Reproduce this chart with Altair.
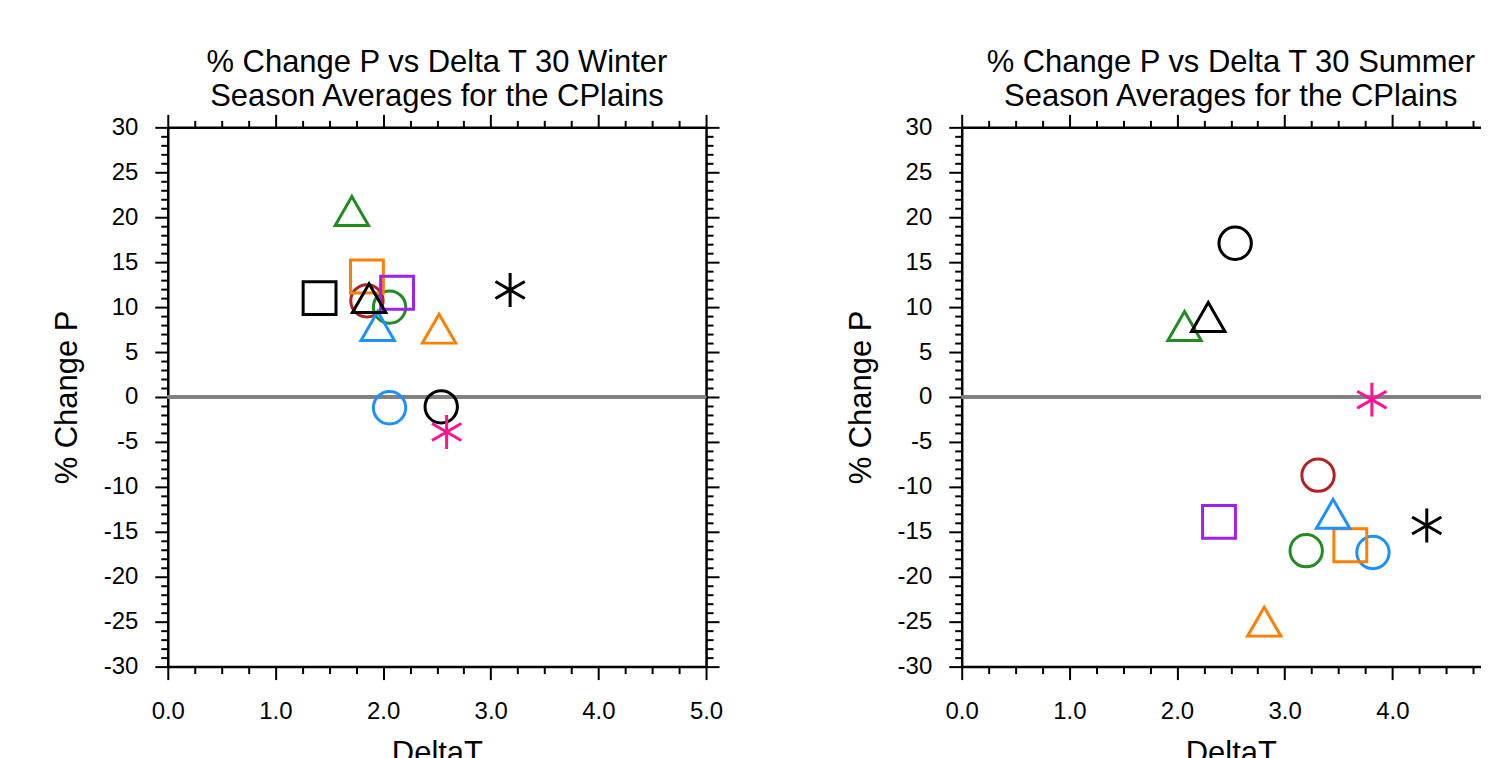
import altair as alt
import pandas as pd

FONT = "Liberation Sans"

# one entry per model series
series = ["S01", "S02", "S03", "S04", "S05", "S06", "S07",
          "S08", "S09", "S10", "S11", "S12", "S13"]
series_shape = ["circle", "circle", "circle", "circle",
                "square", "square", "square",
                "triangle-up", "triangle-up", "triangle-up", "triangle-up",
                "asterisk", "asterisk"]
series_color = ["#b22222", "#228b22", "#1e90ff", "#000000",
                "#ff8000", "#a020f0", "#000000",
                "#228b22", "#1e90ff", "#ff8000", "#000000",
                "#ff1493", "#000000"]

# Winter values (DeltaT, % Change P)
winter_dt = [1.85, 2.06, 2.06, 2.54, 1.85, 2.13, 1.41, 1.71, 1.95, 2.52, 1.87, 2.59, 3.18]
winter_dp = [10.7, 10.0, -1.2, -1.1, 13.4, 11.6, 11.0, 20.7, 7.9, 7.6, 11.0, -3.9, 11.9]

# Summer values (black square not shown)
summer_dt = [3.31, 3.20, 3.82, 2.54, 3.61, 2.39, None, 2.07, 3.45, 2.81, 2.29, 3.81, 4.32]
summer_dp = [-8.7, -17.1, -17.3, 17.1, -16.5, -13.9, None, 7.9, -13.0, -25.0, 8.9, -0.3, -14.3]

x_ticks = [i * 0.25 for i in range(21)]
y_ticks = list(range(-30, 31))

ASTERISK = "M0,-1L0,1M-0.866,-0.5L0.866,0.5M-0.866,0.5L0.866,-0.5"
shape_path = {"circle": "circle", "square": "square",
              "triangle-up": "triangle-up", "asterisk": ASTERISK}

MAJ_X = "abs(datum.value - round(datum.value)) < 0.001"
MAJ_Y = "datum.value % 5 === 0"


def tsize(test):
    return {"condition": {"test": test, "value": 13}, "value": 7}


common = dict(domainColor="black", domainWidth=2.5, tickColor="black",
              tickWidth=2, labelOverlap=False, labelFlush=False, grid=False,
              labelFont=FONT, labelFontSize=24, labelColor="black",
              titleFont=FONT, titleFontSize=31, titleFontWeight="normal",
              titleColor="black")


def panel(dt, dp, season):
    df = pd.DataFrame({"series": series, "dt": dt, "dp": dp,
                       "kind": series_shape}).dropna()
    xs = alt.Scale(domain=[0, 5], nice=False, zero=False)
    ys = alt.Scale(domain=[-30, 30], nice=False, zero=False)

    xb = alt.Axis(orient="bottom", values=x_ticks, tickSize=tsize(MAJ_X),
                  labelExpr=f"{MAJ_X} ? format(datum.value, '.1f') : ''",
                  labelPadding=20, title="DeltaT", titlePadding=15, **common)
    yl = alt.Axis(orient="left", values=y_ticks, tickSize=tsize(MAJ_Y),
                  labelExpr=f"{MAJ_Y} ? '' + datum.value : ''",
                  labelPadding=17, title="% Change P", titlePadding=20, **common)
    xt = alt.Axis(orient="top", values=x_ticks, tickSize=tsize(MAJ_X),
                  labels=False, title=None, **common)
    yr = alt.Axis(orient="right", values=y_ticks, tickSize=tsize(MAJ_Y),
                  labels=False, title=None, **common)

    zero = alt.Chart(df).mark_rule(color="#808080", strokeWidth=2.5).encode(
        y=alt.Y(datum=0, scale=ys, axis=None)
    )
    pts = alt.Chart(df).mark_point(filled=False, strokeWidth=3, opacity=1).encode(
        x=alt.X("dt:Q", scale=xs, axis=xb),
        y=alt.Y("dp:Q", scale=ys, axis=yl),
        shape=alt.Shape("series:N", scale=alt.Scale(
            domain=series, range=[shape_path[k] for k in series_shape]), legend=None),
        stroke=alt.Stroke("series:N", scale=alt.Scale(
            domain=series, range=series_color), legend=None),
        size=alt.Size("kind:N", scale=alt.Scale(
            domain=["circle", "square", "triangle-up", "asterisk"],
            range=[1050, 1150, 1200, 1200]), legend=None),
    )
    frame = alt.Chart(df).mark_point(opacity=0).encode(
        x=alt.X("dt:Q", scale=xs, axis=xt),
        y=alt.Y("dp:Q", scale=ys, axis=yr),
    )
    return alt.layer(zero, pts, frame).resolve_axis(
        x="independent", y="independent"
    ).properties(
        width=539, height=540,
        title=alt.TitleParams(
            [f"% Change P vs Delta T 30 {season}", "Season Averages for the CPlains"],
            font=FONT, fontSize=31, fontWeight="normal", color="black",
            lineHeight=34, anchor="middle", offset=0),
    )


chart = alt.hconcat(panel(winter_dt, winter_dp, "Winter"),
                    panel(summer_dt, summer_dp, "Summer"),
                    spacing=122).properties(
    padding={"left": 43, "top": 39, "right": -36, "bottom": -11},
    background="white",
).configure_view(stroke=None)

chart.save("out.html", embed_options={"renderer": "svg", "actions": False})
